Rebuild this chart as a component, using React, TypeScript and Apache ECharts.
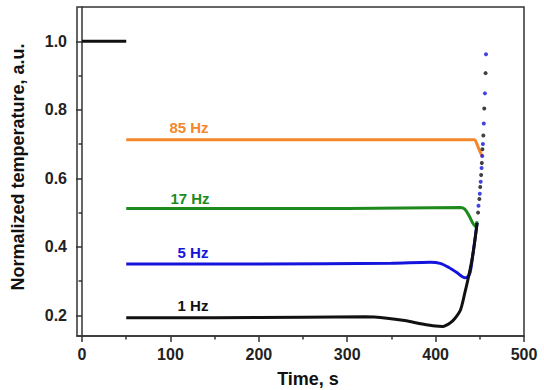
import React, { useEffect, useRef } from "react";
import * as echarts from "echarts";

const xTickValues = [0, 100, 200, 300, 400, 500];
const xMinorValues = [50, 150, 250, 350, 450];
const yTickValues = [0.2, 0.4, 0.6, 0.8, 1.0];
const yMinorValues = [0.3, 0.5, 0.7, 0.9];

const initialSeg = [[0, 1.0], [50, 1.0]];
const oneHz = [[50, 0.193], [150, 0.193], [250, 0.195], [320, 0.196], [345, 0.192], [365, 0.185], [385, 0.175], [400, 0.169], [408, 0.168], [416, 0.177], [422, 0.192], [428, 0.215], [433, 0.265], [437, 0.31], [442, 0.375], [447, 0.47]];
const fiveHz = [[50, 0.35], [200, 0.35], [350, 0.352], [394, 0.355], [405, 0.352], [415, 0.34], [424, 0.325], [429, 0.315], [433, 0.31], [436, 0.312], [439, 0.325], [442, 0.375], [447, 0.47]];
const seventeenHz = [[50, 0.512], [300, 0.512], [428, 0.515], [433, 0.51], [438, 0.49], [442, 0.47], [445, 0.46], [447, 0.475]];
const eightyFiveHz = [[50, 0.713], [444, 0.713], [446, 0.705], [449, 0.685], [452, 0.668], [453, 0.665]];
const oneHzTail = [[448, 0.5], [449.5, 0.54], [450.5, 0.575], [451.5, 0.61], [452.3, 0.645], [453, 0.685], [454, 0.725], [455, 0.804], [456.5, 0.907]];
const fiveHzTail = [[448.5, 0.52], [450, 0.555], [451, 0.59], [452, 0.63], [452.8, 0.665], [453.5, 0.7], [454.5, 0.76], [455.8, 0.848], [457, 0.962]];

const seriesLabels = ["85 Hz", "17 Hz", "5 Hz", "1 Hz"];

const C_BLACK = "#111111";
const C_BLUE = "#1414dc";
const C_GREEN = "#1e8a1e";
const C_ORANGE = "#f5872a";
const FONT = "Liberation Sans, Arial, sans-serif";

export default function App() {
  const ref = useRef<HTMLDivElement>(null);
  useEffect(() => {
    if (!ref.current) return;
    const chart = echarts.init(ref.current, undefined, { renderer: "svg" });
    const axisLine = { show: true, lineStyle: { color: "#333", width: 1.5 } };
    const lineSeries = (data: number[][], color: string) => ({
      type: "line",
      data,
      smooth: 0.3,
      showSymbol: false,
      lineStyle: { color, width: 3 },
      itemStyle: { color },
      z: 3,
    });
    const dotSeries = (data: number[][], color: string) => ({
      type: "scatter",
      data,
      symbolSize: 4,
      itemStyle: { color },
      z: 4,
    });
    chart.setOption({
      animation: false,
      grid: { left: 77, top: 7, right: 20, bottom: 54, show: true, borderColor: "#333", borderWidth: 1.5, backgroundColor: "transparent" },
      xAxis: [
        {
          type: "value", min: -5.7, max: 500,
          axisLine,
          splitLine: { show: false },
          axisTick: { show: true, inside: false, length: 6, customValues: xTickValues, lineStyle: { color: "#333", width: 1.5 } },
          axisLabel: { customValues: xTickValues, fontFamily: FONT, fontWeight: "bold", fontSize: 16, color: "#222", margin: 10 },
        },
        {
          type: "value", min: -5.7, max: 500, position: "bottom",
          axisLine: { show: false },
          splitLine: { show: false },
          axisTick: { show: true, inside: false, length: 3.5, customValues: xMinorValues, lineStyle: { color: "#333", width: 1.5 } },
          axisLabel: { show: false },
        },
      ],
      yAxis: [
        {
          type: "value", min: 0.14, max: 1.1,
          axisLine,
          splitLine: { show: false },
          axisTick: { show: true, inside: false, length: 6, customValues: yTickValues, lineStyle: { color: "#333", width: 1.5 } },
          axisLabel: { customValues: yTickValues, formatter: (v: number) => v.toFixed(1), fontFamily: FONT, fontWeight: "bold", fontSize: 16, color: "#222", margin: 10 },
        },
        {
          type: "value", min: 0.14, max: 1.1, position: "left",
          axisLine: { show: false },
          splitLine: { show: false },
          axisTick: { show: true, inside: false, length: 3.5, customValues: yMinorValues, lineStyle: { color: "#333", width: 1.5 } },
          axisLabel: { show: false },
        },
      ],
      series: [
        lineSeries(initialSeg, C_BLACK),
        lineSeries(eightyFiveHz, C_ORANGE),
        lineSeries(seventeenHz, C_GREEN),
        lineSeries(fiveHz, C_BLUE),
        lineSeries(oneHz, C_BLACK),
        dotSeries(oneHzTail, C_BLACK),
        dotSeries(fiveHzTail, C_BLUE),
      ],
      graphic: [
        { type: "text", x: 189, y: 127, style: { text: seriesLabels[0], fill: C_ORANGE, font: `bold 15px ${FONT}`, textAlign: "center", textVerticalAlign: "middle" } },
        { type: "text", x: 190, y: 198, style: { text: seriesLabels[1], fill: C_GREEN, font: `bold 15px ${FONT}`, textAlign: "center", textVerticalAlign: "middle" } },
        { type: "text", x: 193, y: 252, style: { text: seriesLabels[2], fill: C_BLUE, font: `bold 15px ${FONT}`, textAlign: "center", textVerticalAlign: "middle" } },
        { type: "text", x: 193, y: 305, style: { text: seriesLabels[3], fill: C_BLACK, font: `bold 15px ${FONT}`, textAlign: "center", textVerticalAlign: "middle" } },
        { type: "text", x: 308, y: 379, style: { text: "Time, s", fill: "#111", font: `bold 18px ${FONT}`, textAlign: "center", textVerticalAlign: "middle" } },
        { type: "text", x: 18, y: 167, rotation: Math.PI / 2, style: { text: "Normalized temperature, a.u.", fill: "#111", font: `bold 18px ${FONT}`, textAlign: "center", textVerticalAlign: "middle" } },
      ],
    });
    return () => chart.dispose();
  }, []);
  return <div ref={ref} style={{ width: 544, height: 390, position: "absolute", left: 0, top: 0 }} />;
}
